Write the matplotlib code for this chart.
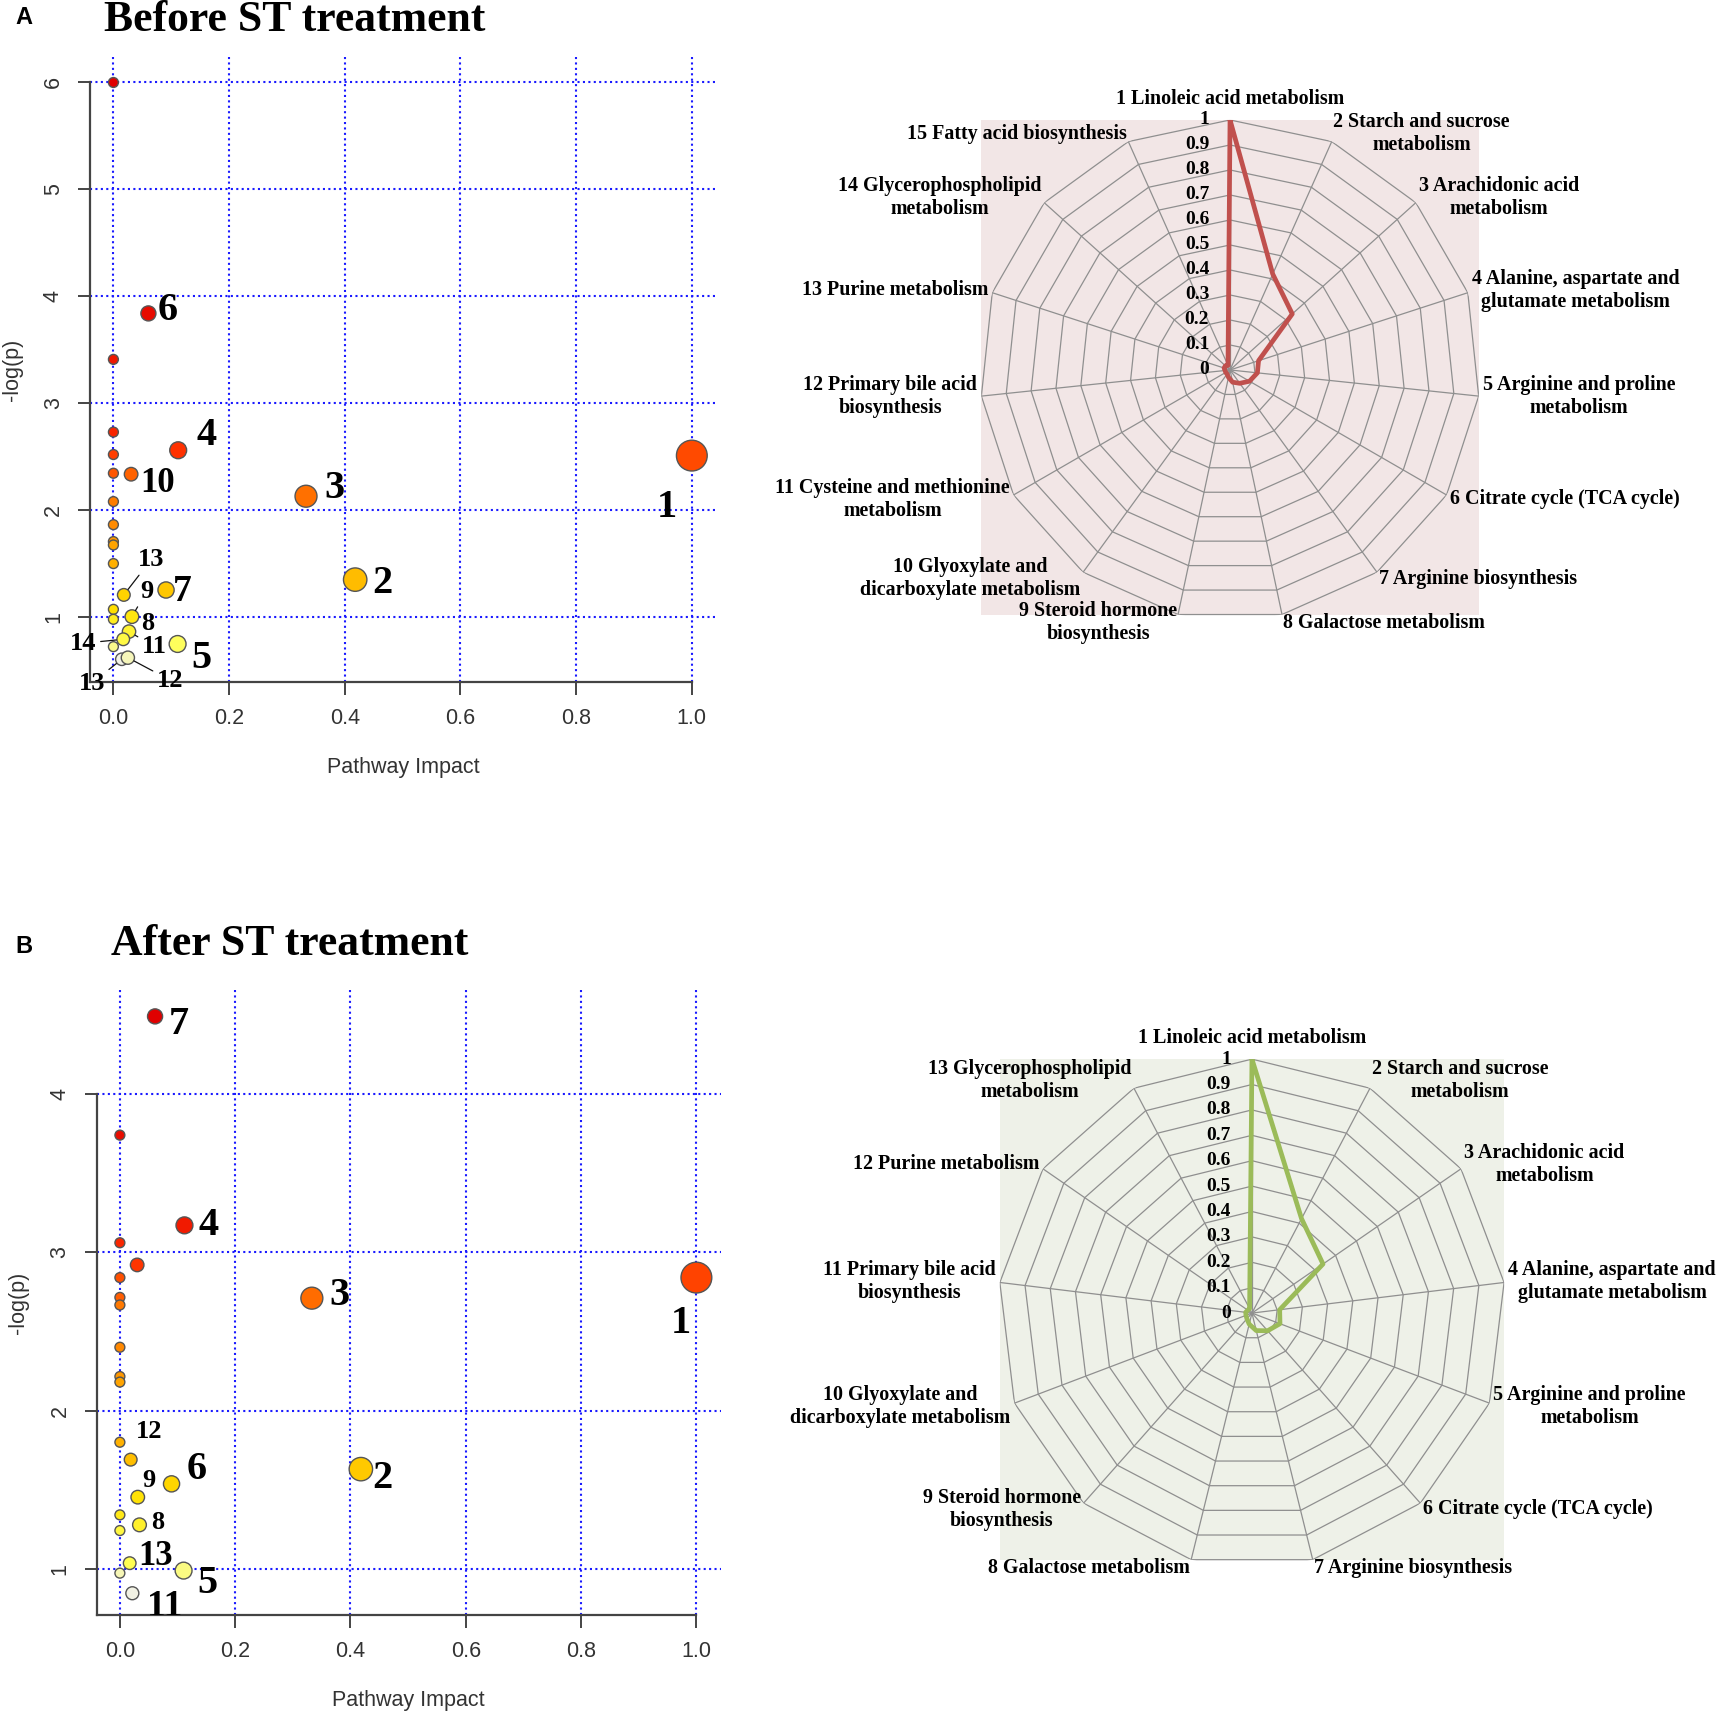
import numpy as np
import matplotlib.pyplot as plt
from matplotlib.colors import LinearSegmentedColormap
from matplotlib.patches import Rectangle
from matplotlib import transforms

plt.rcParams['font.family'] = ['Liberation Sans', 'DejaVu Sans']
SERIF = 'Liberation Serif'

# ---- scatter data: pathway impact vs -log(p) ----
before_impact = [0.0, 0.0605, 0.0, 0.0, 0.112, 0.0, 0.0, 0.0306, 0.333, 1.0,
                 0.0, 0.0, 0.0, 0.0, 0.0, 0.018, 0.091, 0.418, 0.0, 0.0,
                 0.032, 0.027, 0.017, 0.0, 0.111, 0.0145, 0.025]
before_logp = [6.0, 3.84, 3.41, 2.73, 2.56, 2.52, 2.345, 2.336, 2.13, 2.51,
               2.08, 1.864, 1.706, 1.674, 1.50, 1.207, 1.253, 1.35, 1.072, 0.979,
               1.004, 0.864, 0.792, 0.723, 0.748, 0.605, 0.62]

after_impact = [0.061, 0.0, 0.112, 0.0, 0.030, 0.0, 0.0, 0.0, 0.333, 1.0,
                0.0, 0.0, 0.0, 0.0, 0.0187, 0.418, 0.0896, 0.031, 0.0, 0.0,
                0.034, 0.017, 0.0, 0.1105, 0.0216]
after_logp = [4.49, 3.74, 3.17, 3.06, 2.92, 2.84, 2.715, 2.667, 2.71, 2.84,
              2.40, 2.215, 2.18, 1.80, 1.69, 1.63, 1.537, 1.453, 1.341, 1.242,
              1.278, 1.036, 0.973, 0.989, 0.846]

x_ticks = [0.0, 0.2, 0.4, 0.6, 0.8, 1.0]
x_tick_labels = ['0.0', '0.2', '0.4', '0.6', '0.8', '1.0']

# point labels: (text, label x, label y, font size, index of point for a leader line)
before_labels = [('6', 0.076, 3.87, 29, None), ('4', 0.143, 2.70, 29, None),
                 ('10', 0.046, 2.245, 25, None), ('3', 0.365, 2.20, 29, None),
                 ('1', 0.939, 2.02, 29, None), ('2', 0.447, 1.31, 29, None),
                 ('7', 0.103, 1.24, 27, None), ('13', 0.042, 1.535, 19, 15),
                 ('9', 0.046, 1.24, 19, 20), ('8', 0.048, 0.944, 19, None),
                 ('14', -0.075, 0.755, 19, 22), ('11', 0.049, 0.724, 19, 21),
                 ('5', 0.135, 0.614, 29, None), ('12', 0.075, 0.41, 19, 26),
                 ('13', -0.060, 0.383, 19, 25)]
after_labels = [('7', 0.084, 4.44, 29, None), ('4', 0.137, 3.17, 29, None),
                ('3', 0.363, 2.73, 29, None), ('1', 0.956, 2.55, 29, None),
                ('2', 0.437, 1.57, 29, None), ('12', 0.027, 1.87, 19, None),
                ('6', 0.116, 1.625, 29, None), ('9', 0.038, 1.56, 19, None),
                ('8', 0.055, 1.29, 19, None), ('13', 0.031, 1.078, 25, None),
                ('5', 0.135, 0.91, 29, None), ('11', 0.0475, 0.765, 27, None)]

# ---- radar data ----
before_pathways = ['1 Linoleic acid metabolism', '2 Starch and sucrose\nmetabolism',
                   '3 Arachidonic acid\nmetabolism', '4 Alanine, aspartate and\nglutamate metabolism',
                   '5 Arginine and proline\nmetabolism', '6 Citrate cycle (TCA cycle)',
                   '7 Arginine biosynthesis', '8 Galactose metabolism',
                   '9 Steroid hormone\nbiosynthesis', '10 Glyoxylate and\ndicarboxylate metabolism',
                   '11 Cysteine and methionine\nmetabolism', '12 Primary bile acid\nbiosynthesis',
                   '13 Purine metabolism', '14 Glycerophospholipid\nmetabolism',
                   '15 Fatty acid biosynthesis']
before_radar = [1.0, 0.42, 0.335, 0.12, 0.11, 0.09, 0.066, 0.05, 0.03, 0.02,
                0.02, 0.02, 0.025, 0.025, 0.02]

after_pathways = ['1 Linoleic acid metabolism', '2 Starch and sucrose\nmetabolism',
                  '3 Arachidonic acid\nmetabolism', '4 Alanine, aspartate and\nglutamate metabolism',
                  '5 Arginine and proline\nmetabolism', '6 Citrate cycle (TCA cycle)',
                  '7 Arginine biosynthesis', '8 Galactose metabolism',
                  '9 Steroid hormone\nbiosynthesis', '10 Glyoxylate and\ndicarboxylate metabolism',
                  '11 Primary bile acid\nbiosynthesis', '12 Purine metabolism',
                  '13 Glycerophospholipid\nmetabolism']
after_radar = [1.0, 0.42, 0.34, 0.11, 0.118, 0.093, 0.071, 0.045, 0.03, 0.025,
               0.025, 0.02, 0.02]

ring_levels = [0, 0.1, 0.2, 0.3, 0.4, 0.5, 0.6, 0.7, 0.8, 0.9, 1.0]
ring_labels = ['0', '0.1', '0.2', '0.3', '0.4', '0.5', '0.6', '0.7', '0.8', '0.9', '1']

heat = LinearSegmentedColormap.from_list(
    'heat', [(0, '#f2f2e4'), (0.12, '#ffff55'), (0.3, '#ffe000'), (0.5, '#ffa500'),
             (0.7, '#ff6000'), (0.85, '#ff3000'), (1, '#e00000')])


def scatter_panel(ax, impact, logp, ylim, ytop, labels, clip):
    impact = np.asarray(impact)
    logp = np.asarray(logp)
    rank = np.argsort(np.argsort(logp)) / (len(logp) - 1)
    size = (0.792 * (9 + 19 * np.sqrt(impact))) ** 2
    ax.scatter(impact, logp, s=size, c=heat(rank), edgecolors='#555555',
               linewidths=1.0, zorder=3)
    ax.set_xlim(-0.04, 1.042)
    ax.set_ylim(*ylim)
    ax.set_xticks(x_ticks)
    ax.set_xticklabels(x_tick_labels)
    ax.set_yticks(range(1, ytop + 1))
    ax.grid(True, color='#1a1aff', linestyle=(0, (1, 1.6)), lw=1.5)
    ax.set_axisbelow(True)
    for s in ['top', 'right']:
        ax.spines[s].set_visible(False)
    ax.spines['left'].set_bounds(ylim[0], ytop)
    ax.spines['bottom'].set_bounds(-0.04, 1.0)
    for s in ['left', 'bottom']:
        ax.spines[s].set_color('#444444')
        ax.spines[s].set_linewidth(1.6)
    ax.tick_params(colors='#444444', labelcolor='#333333', labelsize=15.5,
                   length=9, width=1.4, pad=10)
    ax.tick_params(axis='y', labelrotation=90)
    for lab in ax.get_yticklabels():
        lab.set_va('center')
    ax.set_xlabel('Pathway Impact', fontsize=15.5, color='#333333')
    ax.set_ylabel('-log(p)', fontsize=15.5, color='#333333')
    ax.xaxis.set_label_coords(0.5, -0.12)
    ax.yaxis.set_label_coords(-0.108, 0.5)

    for text, lx, ly, fs, idx in labels:
        kw = dict(fontsize=fs, fontfamily=SERIF, fontweight='bold', ha='left',
                  va='center', zorder=4, annotation_clip=False)
        if idx is None:
            t = ax.annotate(text, xy=(lx, ly), **kw)
        else:
            t = ax.annotate(text, xy=(impact[idx], logp[idx]), xytext=(lx, ly),
                            arrowprops=dict(arrowstyle='-', color='#111111', lw=0.9,
                                            shrinkA=1, shrinkB=5), **kw)
        if clip:
            t.set_clip_on(True)
            t.set_clip_path(ax.patch)


def radar_panel(ax, names, values, color, bg):
    n = len(names)
    theta = np.arange(n) * 2 * np.pi / n
    closed = np.append(theta, theta[0])
    ax.set_theta_offset(np.pi / 2)
    ax.set_theta_direction(-1)
    ax.grid(False)
    ax.set_xticks([])
    ax.set_yticks([])
    ax.spines['polar'].set_visible(False)
    ax.patch.set_visible(False)

    sx, sy = np.sin(theta), np.cos(theta)
    x0, x1 = 0.5 + sx.min() / 2, 0.5 + sx.max() / 2
    y0 = 0.5 + sy.min() / 2
    ax.add_patch(Rectangle((x0, y0), x1 - x0, 1 - y0, transform=ax.transAxes,
                           facecolor=bg, edgecolor='none', zorder=0, clip_on=False))

    for lev in ring_levels[1:]:
        ax.plot(closed, [lev] * (n + 1), color='#8f8f8f', lw=0.9, zorder=1)
    for t in theta:
        ax.plot([t, t], [0, 1], color='#8f8f8f', lw=0.9, zorder=1)

    ax.plot(closed, np.append(values, values[0]), color=color, lw=3.4, zorder=3,
            solid_joinstyle='round')

    off = transforms.offset_copy(ax.transData, fig=ax.figure, x=-15, y=0, units='points')
    for lev, lab in zip(ring_levels, ring_labels):
        ax.text(0, lev, lab, transform=off, ha='right', va='center', fontsize=14,
                fontfamily=SERIF, fontweight='bold', zorder=4)

    for t, name in zip(theta, names):
        deg = np.degrees(t)
        if np.isclose(deg, 0):
            ha, va, dx, dy = 'center', 'bottom', 0, 8
        else:
            ha = 'left' if deg < 180 else 'right'
            va = 'center'
            dx, dy = 3 * np.sin(t), 6 * np.cos(t)
        ax.annotate(name, xy=(t, 1), xytext=(dx, dy), textcoords='offset points',
                    ha=ha, va=va, multialignment='center', fontsize=14.4,
                    fontfamily=SERIF, fontweight='bold', annotation_clip=False)
    ax.set_ylim(0, 1)


fig = plt.figure(figsize=(17.26, 17.16), dpi=100)

ax_a = fig.add_axes([0.0523, 0.6026, 0.3626, 0.3641])
scatter_panel(ax_a, before_impact, before_logp, (0.393, 6.237), 6, before_labels, False)

ax_b = fig.add_axes([0.0561, 0.0589, 0.3614, 0.3642])
scatter_panel(ax_b, after_impact, after_logp, (0.709, 4.657), 4, after_labels, True)

rad_a = fig.add_axes([0.5678, 0.6387, 0.2897, 0.2914], projection='polar')
radar_panel(rad_a, before_pathways, before_radar, '#c0504d', '#f2e6e6')

rad_b = fig.add_axes([0.5782, 0.0868, 0.2943, 0.2960], projection='polar')
radar_panel(rad_b, after_pathways, after_radar, '#9bbb59', '#eef1e8')

fig.text(0.0139, 0.990, 'A', fontsize=17, fontweight='bold', ha='center', va='center')
fig.text(0.0605, 0.9885, 'Before ST treatment', fontsize=31.5, fontfamily=SERIF,
         fontweight='bold', ha='left', va='center')
fig.text(0.0139, 0.4487, 'B', fontsize=17, fontweight='bold', ha='center', va='center')
fig.text(0.0643, 0.4500, 'After ST treatment', fontsize=31.5, fontfamily=SERIF,
         fontweight='bold', ha='left', va='center')

fig.savefig('out.png', dpi=100)
